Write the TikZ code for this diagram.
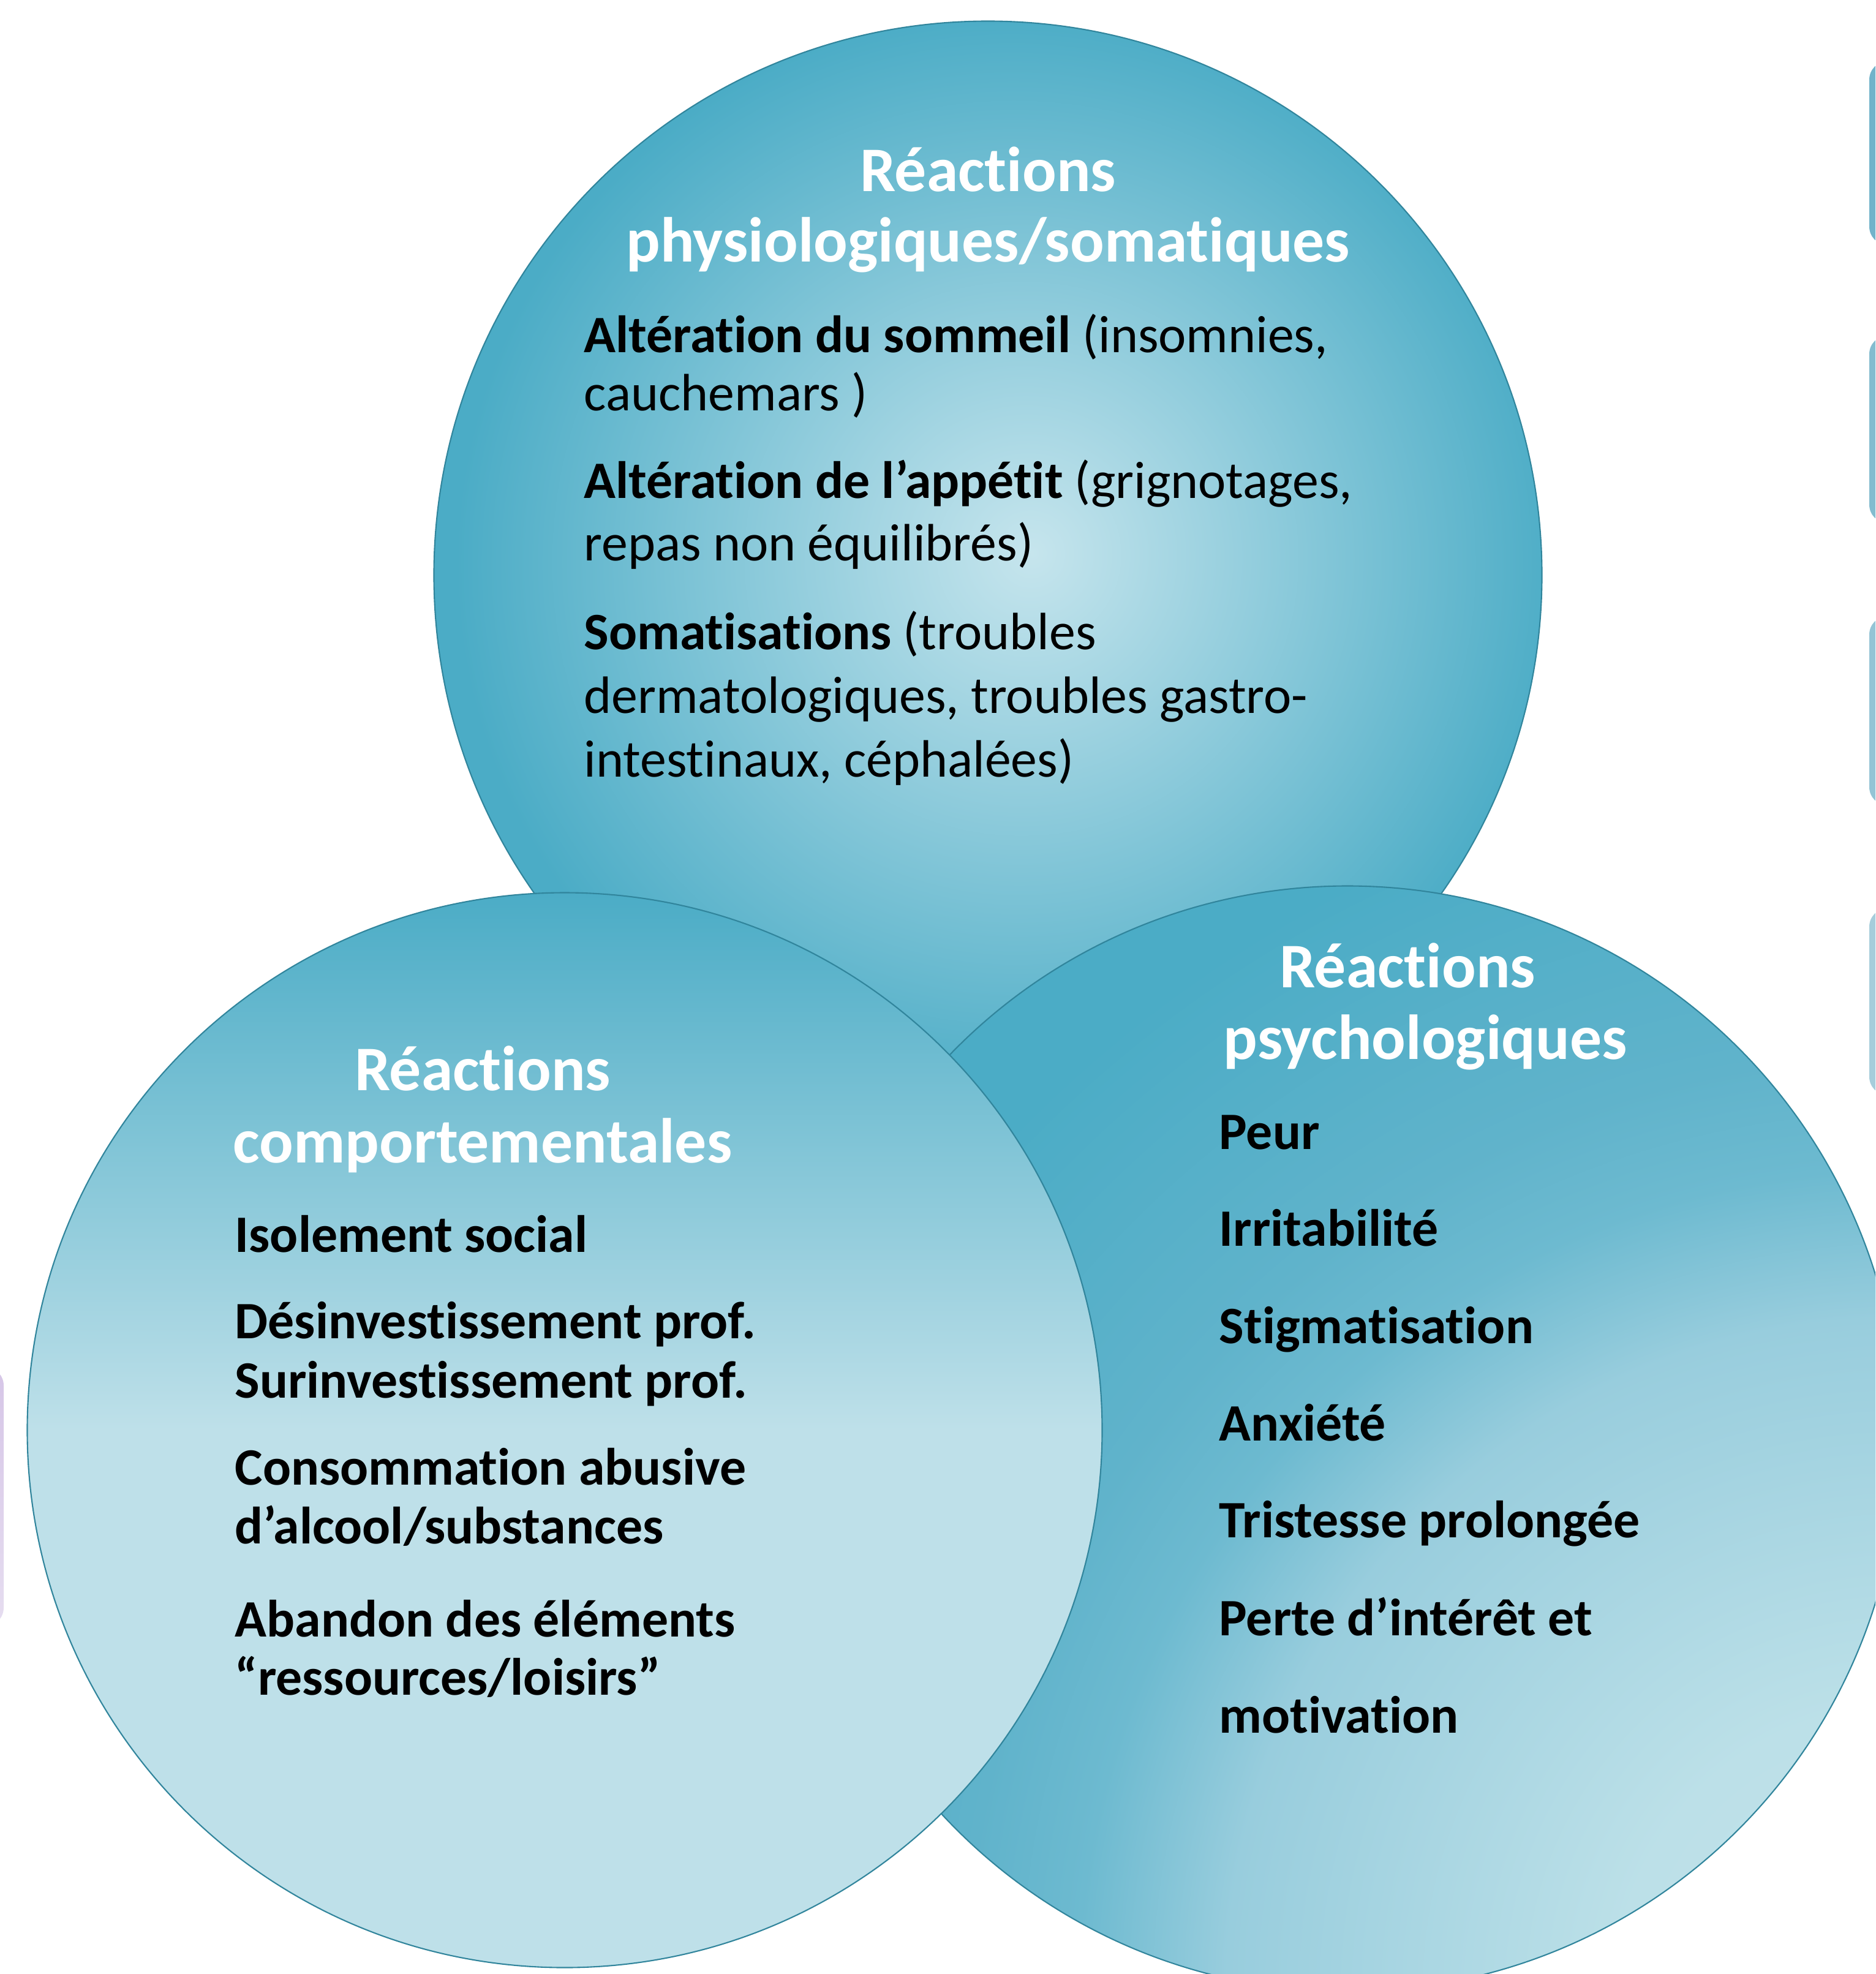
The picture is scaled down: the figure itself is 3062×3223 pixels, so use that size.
\documentclass[tikz,border=0pt]{standalone}
\usepackage{fontspec}
\setmainfont{Carlito}[RawFeature={-liga;-clig;-calt;-dlig}]
\definecolor{aquadark}{HTML}{4BACC6}
\definecolor{aqualight}{HTML}{BEE0E9}
\definecolor{glowlight}{HTML}{C6E5ED}
\definecolor{vennline}{HTML}{31859C}
\definecolor{cornerA}{HTML}{C2E3EB}
\definecolor{cornerB}{HTML}{BCE0E8}
\definecolor{cornerC}{HTML}{98CDDD}
\definecolor{cornerD}{HTML}{6DBAD0}
\definecolor{cornerE}{HTML}{60B3CB}
\definecolor{tabA}{HTML}{71B3CA}
\definecolor{tabB}{HTML}{83BCCF}
\definecolor{tabC}{HTML}{94C4D5}
\definecolor{tabD}{HTML}{A6CDDB}
\definecolor{lilac}{HTML}{D6C6E7}
\definecolor{lilacpale}{HTML}{E6DDF0}
\pgfdeclareradialshading{topglow}{\pgfpoint{2bp}{1bp}}{color(0bp)=(glowlight); color(25bp)=(aquadark); color(50bp)=(aquadark)}
\pgfdeclareradialshading{cornerfade}{\pgfpoint{0bp}{0bp}}{color(0bp)=(cornerA); color(5.7bp)=(cornerB); color(13.6bp)=(cornerC); color(16.6bp)=(cornerD); color(18.9bp)=(cornerE); color(25bp)=(aquadark); color(50bp)=(aquadark)}
\tikzset{vc/.append style={circle, draw=vennline, line width=0.6pt, inner sep=0pt}}
\tikzset{hd/.append style={anchor=base, inner sep=0pt, text=white, font=\fontsize{29.5}{35}\selectfont\bfseries}}
\tikzset{bd/.append style={anchor=base west, inner sep=0pt, font=\fontsize{24.4}{29}\selectfont}}
\tikzset{bb/.append style={bd, font=\fontsize{24.4}{29}\selectfont\bfseries}}
\tikzset{sidetab/.append style={rounded corners=0.3cm}}

\begin{document}
\begin{tikzpicture}[x=0.01cm,y=-0.01cm]
                \useasboundingbox (0,0) rectangle (3062,3223);
                \clip (0,0) rectangle (3062,3223);
                % bits of the neighbouring shapes
                \fill[sidetab,tabA] (3052,100) rectangle (3200,400);
                \fill[sidetab,tabB] (3052,548) rectangle (3200,854);
                \fill[sidetab,tabC] (3052,1006) rectangle (3200,1315);
                \fill[sidetab,tabD] (3052,1483) rectangle (3200,1788);
                \shade[sidetab,top color=lilac,bottom color=lilacpale] (-100,2232) rectangle (6,2655);
                % \SetUpCircles
                \node[vc,shade,shading=topglow,minimum size=18.08cm] (physio) at (1613,939) {};
                \node[vc,fill=aquadark,minimum size=18.04cm,
                  path picture={\shade[shading=cornerfade] (path picture bounding box.south east) circle[radius=20.2cm];}] (psycho) at (2200,2349) {};
                \node[vc,top color=aquadark,bottom color=aqualight,middle color=aqualight,minimum size=17.54cm] (comport) at (922,2335) {};
                % physiologiques
                \node[hd] (physioA) at (1613,312) {Réactions};
                \node[hd] (physioB) at (1613,427) {physiologiques/somatiques};
                \node[bd] (sommeil) at (953,575) {\textbf{Altération du sommeil} (insomnies,};
                \node[bd] (sommeilB) at (953,670) {cauchemars )};
                \node[bd] (appetit) at (953,813) {\textbf{Altération de l’appétit} (grignotages,};
                \node[bd] (appetitB) at (953,915) {repas non équilibrés)};
                \node[bd] (somat) at (953,1060) {\textbf{Somatisations} (troubles};
                \node[bd] (somatB) at (953,1164) {dermatologiques, troubles gastro-};
                \node[bd] (somatC) at (953,1268) {intestinaux, céphalées)};
                % comportementales
                \node[hd] (compA) at (788,1780) {Réactions};
                \node[hd] (compB) at (788,1898) {comportementales};
                \node[bb] (isol) at (383,2044) {Isolement social};
                \node[bb] (desinv) at (383,2185) {Désinvestissement prof.};
                \node[bb] (surinv) at (383,2282) {Surinvestissement prof.};
                \node[bb] (conso) at (383,2424) {Consommation abusive};
                \node[bb] (consoB) at (383,2520) {d’alcool/substances};
                \node[bb] (aband) at (383,2672) {Abandon des éléments};
                \node[bb] (abandB) at (383,2767) {“ressources/loisirs”};
                % psychologiques
                \node[hd] (psyA) at (2298,1612) {Réactions};
                \node[hd] (psyB) at (2327,1729) {psychologiques};
                \node[bb] (peur) at (1990,1876) {Peur};
                \node[bb] (irrit) at (1990,2034) {Irritabilité};
                \node[bb] (stigm) at (1990,2193) {Stigmatisation};
                \node[bb] (anx) at (1990,2352) {Anxiété};
                \node[bb] (trist) at (1990,2510) {Tristesse prolongée};
                \node[bb] (perte) at (1990,2670) {Perte d’intérêt et};
                \node[bb] (perteB) at (1990,2829) {motivation};
            \end{tikzpicture}
\end{document}
